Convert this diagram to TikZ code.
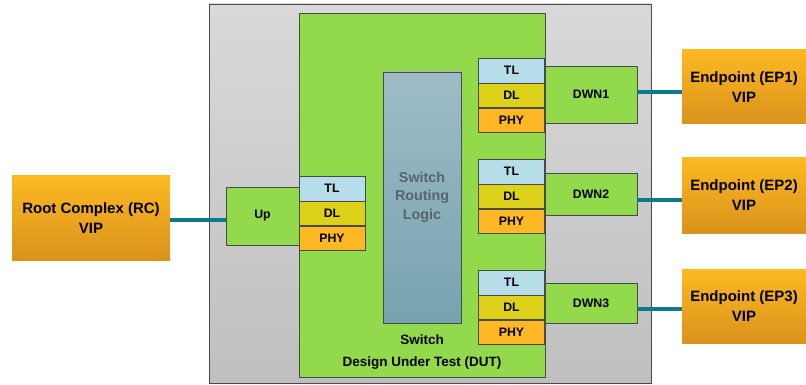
\documentclass[tikz,border=0pt]{standalone}
\usepackage{fontspec}
\setmainfont{Liberation Sans}
\usetikzlibrary{positioning}

\definecolor{vipTop}{HTML}{FDB922}
\definecolor{vipBot}{HTML}{DA921C}
\definecolor{dutGreen}{HTML}{92D94B}
\definecolor{tlBlue}{HTML}{B7DCEA}
\definecolor{dlYellow}{HTML}{DDD11A}
\definecolor{phyOrange}{HTML}{FDB823}
\definecolor{benchTop}{HTML}{D9D9D9}
\definecolor{benchBot}{HTML}{BFBFBF}
\definecolor{srlTop}{HTML}{9DBCC6}
\definecolor{srlBot}{HTML}{77A2B0}
\definecolor{srlText}{HTML}{56666C}
\definecolor{linkTeal}{HTML}{0C7A8A}
\definecolor{edge}{HTML}{4A4A4A}

\tikzset{
  vip/.style={draw=none, top color=vipTop, bottom color=vipBot, align=center,
    font=\fontsize{15}{20}\selectfont\bfseries, inner sep=0pt},
  port/.style={draw=edge, fill=dutGreen, font=\fontsize{12.3}{14}\selectfont\bfseries, inner sep=0pt},
  layer/.style={draw=edge, minimum width=66pt, minimum height=24.5pt, inner sep=0pt,
    font=\fontsize{12.3}{14}\selectfont\bfseries},
  tl/.style={layer, fill=tlBlue},
  dl/.style={layer, fill=dlYellow},
  phy/.style={layer, fill=phyOrange},
  link/.style={draw=linkTeal, line width=4pt}
}

\begin{document}
\begin{tikzpicture}[x=1pt,y=-1pt]
  \useasboundingbox (0,0) rectangle (806,385);
  % testbench and DUT
  \node[draw=edge, top color=benchTop, bottom color=benchBot, minimum width=442pt, minimum height=379pt, inner sep=0pt] (bench) at (430,193.5) {};
  \node[draw=edge, fill=dutGreen, minimum width=246pt, minimum height=364pt, inner sep=0pt] (dut) at (422,195) {};
  \node[draw=edge, top color=srlTop, bottom color=srlBot, minimum width=78pt, minimum height=251pt, inner sep=0pt] (srl) at (422,197.5) {};
  \node[text=srlText, align=center, font=\fontsize{14.3}{18.5}\selectfont\bfseries] (srllabel) at (422,197) {Switch\\Routing\\Logic};
  \node[font=\fontsize{13.5}{15}\selectfont\bfseries] (switchlabel) at (422,340) {Switch};
  \node[font=\fontsize{13.5}{15}\selectfont\bfseries] (dutlabel) at (422,363) {Design Under Test (DUT)};

  % upstream port
  \node[port, minimum width=73pt, minimum height=58pt] (up) at (262.5,216) {Up};
  \node[tl] (uptl) at (332,188.5) {TL};
  \node[dl, below=0pt of uptl] (updl) {DL};
  \node[phy, below=0pt of updl] (upphy) {PHY};

  % downstream ports
  \node[tl] (tla) at (511.5,70.5) {TL};
  \node[dl, below=0pt of tla] (dla) {DL};
  \node[phy, below=0pt of dla] (phya) {PHY};
  \node[tl] (tlb) at (511.5,171.5) {TL};
  \node[dl, below=0pt of tlb] (dlb) {DL};
  \node[phy, below=0pt of dlb] (phyb) {PHY};
  \node[tl] (tlc) at (511.5,282.5) {TL};
  \node[dl, below=0pt of tlc] (dlc) {DL};
  \node[phy, below=0pt of dlc] (phyc) {PHY};
  \node[port, minimum width=92pt, minimum height=57pt] (dwna) at (591,94.5) {DWN1};
  \node[port, minimum width=92pt, minimum height=42pt] (dwnb) at (591,194) {DWN2};
  \node[port, minimum width=92pt, minimum height=40pt] (dwnc) at (591,303) {DWN3};

  % VIPs
  \node[vip, minimum width=158pt, minimum height=84pt] (rc) at (91,218) {Root Complex (RC)\\VIP};
  \node[vip, minimum width=124pt, minimum height=74pt] (epa) at (744,87) {Endpoint (EP1)\\VIP};
  \node[vip, minimum width=124pt, minimum height=75pt] (epb) at (744,195.5) {Endpoint (EP2)\\VIP};
  \node[vip, minimum width=124pt, minimum height=74pt] (epc) at (744,306) {Endpoint (EP3)\\VIP};

  % links
  \draw[link] (rc.east |- 0,220) -- (up.west |- 0,220);
  \draw[link] (dwna.east |- 0,92) -- (epa.west |- 0,92);
  \draw[link] (dwnb.east |- 0,200) -- (epb.west |- 0,200);
  \draw[link] (dwnc.east |- 0,309) -- (epc.west |- 0,309);
\end{tikzpicture}
\end{document}
